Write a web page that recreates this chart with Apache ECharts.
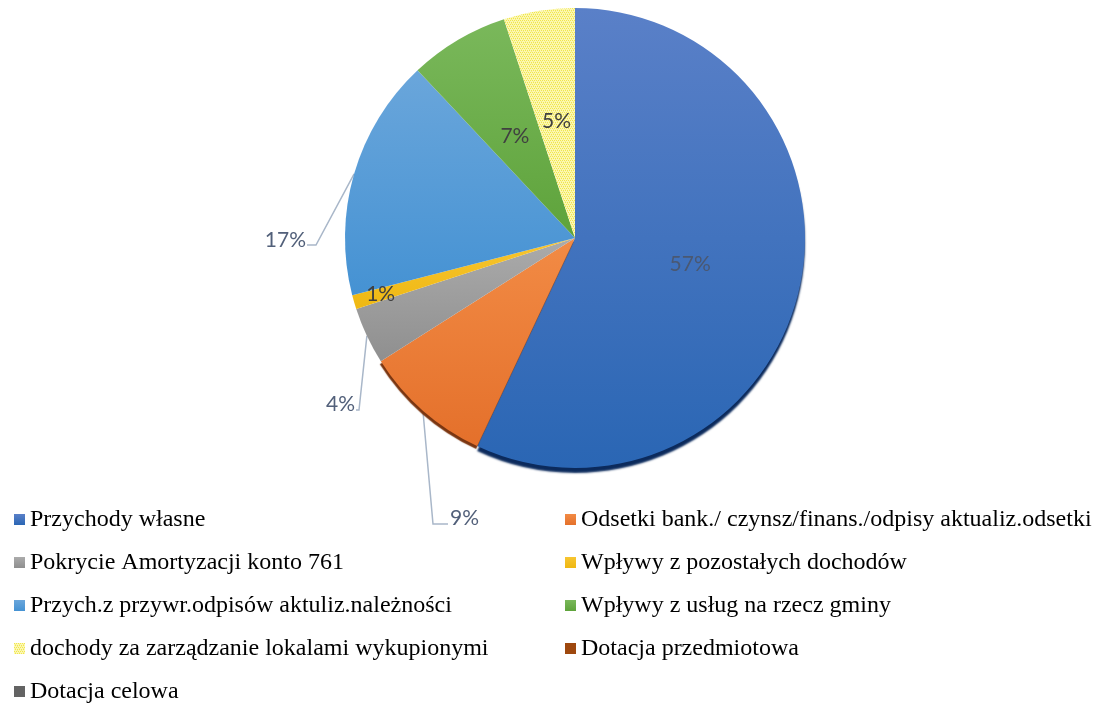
<!DOCTYPE html>
<html>
<head>
<meta charset="utf-8">
<title>Struktura przychodów</title>
<script src="https://cdn.jsdelivr.net/npm/echarts@6/dist/echarts.min.js"></script>
<style>
html, body { margin: 0; padding: 0; background: #fff; }
#main { width: 1097px; height: 704px; }
</style>
</head>
<body>
<div id="main"></div>
<script>
// categories in legend order (= slice order, clockwise from 12 o'clock)
var categories = [
  'Przychody własne',
  'Odsetki bank./ czynsz/finans./odpisy aktualiz.odsetki',
  'Pokrycie Amortyzacji konto 761',
  'Wpływy z pozostałych dochodów',
  'Przych.z przywr.odpisów aktuliz.należności',
  'Wpływy z usług na rzecz gminy',
  'dochody za zarządzanie lokalami wykupionymi',
  'Dotacja przedmiotowa',
  'Dotacja celowa'
];
// shares in percent
var shares = [57, 9, 4, 1, 17, 7, 5, 0, 0];

// top / bottom shade of each slice
var shades = [
  ['#5a80c8', '#2a66b4'],
  ['#f28b45', '#e4702b'],
  ['#ababab', '#8f8f8f'],
  ['#f7c531', '#efb812'],
  ['#6aa6db', '#4592d3'],
  ['#7ab85b', '#5ea33b'],
  null,
  ['#9e480e', '#9e480e'],
  ['#636363', '#636363']
];

var cx = 575, cy = 238, R = 230;

// little dotted yellow fill used for the 7th slice
function dotPattern() {
  var c = document.createElement('canvas');
  c.width = 4; c.height = 4;
  var g = c.getContext('2d');
  g.fillStyle = '#fbf7b4';
  g.fillRect(0, 0, 4, 4);
  g.fillStyle = '#f1e64a';
  g.fillRect(0, 0, 1, 1);
  g.fillRect(2, 0, 1, 1);
  g.fillRect(1, 2, 1, 1);
  g.fillRect(3, 2, 1, 1);
  g.fillStyle = '#f7ef86';
  g.fillRect(1, 1, 1, 1);
  g.fillRect(3, 3, 1, 1);
  return c;
}

var total = shares.reduce(function (a, b) { return a + b; }, 0);
function midAngle(i) {
  var before = 0;
  for (var j = 0; j < i; j++) before += shares[j];
  return (before + shares[i] / 2) / total * Math.PI * 2;
}
function polar(a, k) {
  return [cx + R * k * Math.sin(a), cy - R * k * Math.cos(a)];
}

// outside labels: anchor of the text and the elbow of the leader, relative to the pie centre
var outside = {
  1: { at: [-125, 280], align: 'left', elbow: [-142, 286], end: [-127, 286] },
  2: { at: [-220, 166], align: 'right', elbow: [-216, 172], end: [-219, 172] },
  4: { at: [-269, 2], align: 'right', elbow: [-259, 7], end: [-268, 7] }
};
var insideDark = { 3: true, 5: true, 6: true };

var pattern = dotPattern();
var pieData = categories.map(function (name, i) {
  var item = { name: name, value: shares[i], itemStyle: {} };
  if (shades[i]) {
    item.itemStyle.color = new echarts.graphic.LinearGradient(0, 0, 0, 1, [
      { offset: 0, color: shades[i][0] },
      { offset: 1, color: shades[i][1] }
    ]);
  } else {
    item.itemStyle.color = { image: pattern, repeat: 'repeat' };
  }
  if (i === 0) {
    item.itemStyle.shadowColor = '#0b2a5c';
    item.itemStyle.shadowOffsetY = 5;
    item.itemStyle.shadowBlur = 2;
  }
  if (i === 1) {
    // shadow pushed roughly along the edge shared with the blue slice
    item.itemStyle.shadowColor = '#7a3510';
    item.itemStyle.shadowOffsetX = -1;
    item.itemStyle.shadowOffsetY = 3;
    item.itemStyle.shadowBlur = 1;
  }
  if (shares[i] === 0) {
    item.label = { show: false };
    item.labelLine = { show: false };
  } else if (!outside[i]) {
    item.label = { position: 'inside', color: insideDark[i] ? '#404040' : '#4a5872' };
    item.labelLine = { show: false };
  }
  return item;
});

var myChart = echarts.init(document.getElementById('main'));
var option = {
  backgroundColor: '#fff',
  animation: false,
  legend: {
    left: 14,
    top: 498,
    width: 1120,
    padding: 0,
    itemGap: 0,
    itemWidth: 11,
    itemHeight: 11,
    icon: 'rect',
    data: categories,
    textStyle: {
      fontFamily: 'Liberation Serif',
      fontSize: 24,
      color: '#000',
      width: 535,
      lineHeight: 43
    }
  },
  series: [{
    type: 'pie',
    center: [cx, cy],
    radius: R,
    startAngle: 90,
    clockwise: true,
    avoidLabelOverlap: false,
    emphasis: { disabled: true },
    itemStyle: { borderWidth: 0 },
    label: {
      show: true,
      position: 'outside',
      fontFamily: 'Lato',
      fontSize: 21,
      color: '#52607a',
      formatter: function (p) { return Math.round(p.percent) + '%'; }
    },
    labelLine: {
      show: true,
      length: 10,
      length2: 10,
      lineStyle: { color: '#a9b7c9', width: 1.5 }
    },
    labelLayout: function (p) {
      var i = p.dataIndex;
      var o = outside[i];
      if (o) {
        var a = midAngle(i);
        return {
          x: cx + o.at[0],
          y: cy + o.at[1],
          align: o.align,
          verticalAlign: 'middle',
          labelLinePoints: [
            polar(a, 1),
            [cx + o.elbow[0], cy + o.elbow[1]],
            [cx + o.end[0], cy + o.end[1]]
          ]
        };
      }
      if (i === 3) {
        var q = polar(midAngle(i), 0.88);
        return { x: q[0], y: q[1], align: 'center', verticalAlign: 'middle' };
      }
    },
    data: pieData
  }]
};
myChart.setOption(option);
</script>
</body>
</html>
